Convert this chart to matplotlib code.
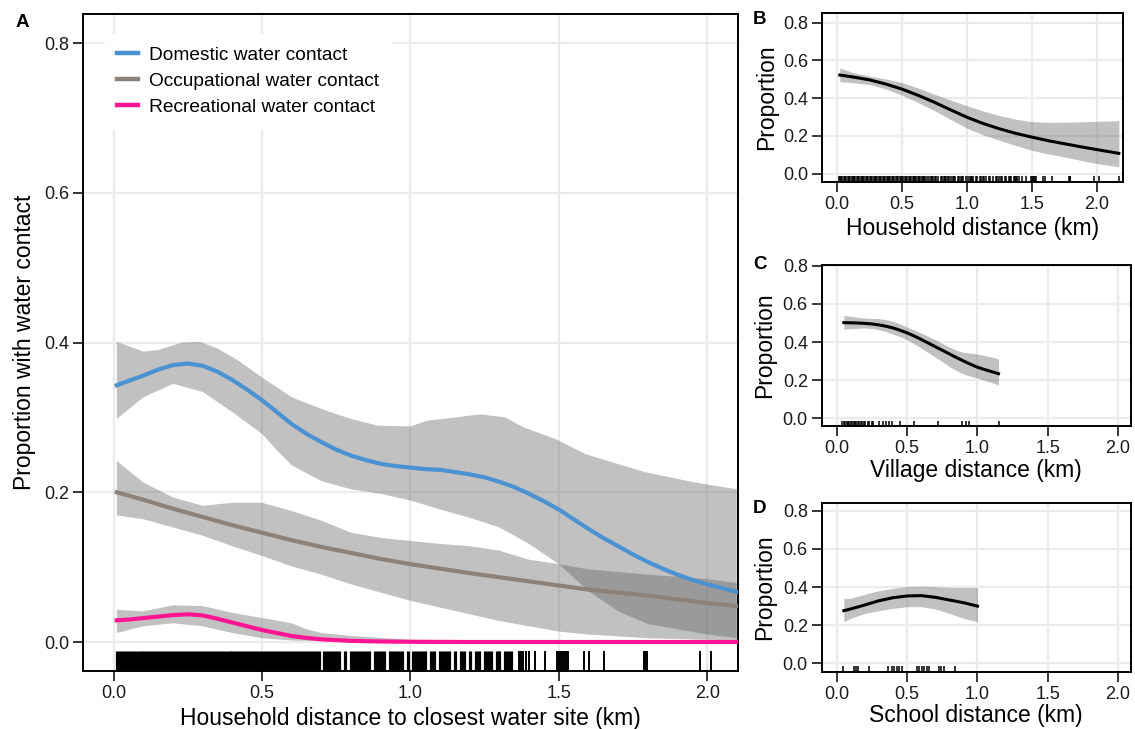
import matplotlib
matplotlib.use("Agg")
import matplotlib.pyplot as plt

plt.rcParams['font.family'] = ['Liberation Sans', 'DejaVu Sans']

# ---- panel A: smoothed proportions by household distance ----
dom_x = [0.01, 0.05, 0.1, 0.15, 0.2, 0.25, 0.3, 0.35, 0.4, 0.45, 0.5, 0.55, 0.6, 0.65,
         0.7, 0.75, 0.8, 0.85, 0.9, 0.95, 1.0, 1.05, 1.1, 1.15, 1.2, 1.25, 1.3, 1.35,
         1.4, 1.45, 1.5, 1.55, 1.6, 1.65, 1.7, 1.75, 1.8, 1.85, 1.9, 1.95, 2.0, 2.05, 2.1]
dom_y = [0.343, 0.349, 0.356, 0.364, 0.370, 0.372, 0.369, 0.361, 0.350, 0.337, 0.323,
         0.307, 0.291, 0.278, 0.267, 0.257, 0.249, 0.243, 0.238, 0.235, 0.233, 0.231,
         0.230, 0.227, 0.224, 0.220, 0.214, 0.207, 0.198, 0.188, 0.177, 0.164, 0.151,
         0.139, 0.128, 0.117, 0.107, 0.098, 0.090, 0.083, 0.077, 0.072, 0.067]
dom_hi_x = [0.01, 0.1, 0.15, 0.23, 0.29, 0.35, 0.42, 0.49, 0.6, 0.65, 0.73, 0.8, 0.89,
            1.0, 1.06, 1.11, 1.21, 1.24, 1.32, 1.38, 1.49, 1.59, 1.79, 1.96, 2.1]
dom_hi = [0.401, 0.388, 0.390, 0.400, 0.401, 0.392, 0.376, 0.356, 0.327, 0.319, 0.307,
          0.298, 0.289, 0.288, 0.296, 0.298, 0.303, 0.304, 0.300, 0.287, 0.271, 0.251,
          0.227, 0.213, 0.204]
dom_lo_x = [0.01, 0.1, 0.2, 0.3, 0.4, 0.5, 0.55, 0.6, 0.7, 0.8, 0.9, 1.0, 1.1, 1.2,
            1.3, 1.4, 1.5, 1.6, 1.7, 1.8, 1.9, 2.0, 2.1]
dom_lo = [0.298, 0.327, 0.345, 0.334, 0.307, 0.278, 0.256, 0.236, 0.215, 0.204, 0.198,
          0.189, 0.177, 0.166, 0.153, 0.131, 0.104, 0.068, 0.041, 0.024, 0.017, 0.010, 0.005]

occ_x = [0.01, 0.1, 0.2, 0.3, 0.4, 0.5, 0.6, 0.7, 0.8, 0.9, 1.0, 1.2, 1.4, 1.6, 1.8, 2.0, 2.1]
occ_y = [0.200, 0.190, 0.178, 0.167, 0.156, 0.146, 0.136, 0.127, 0.119, 0.111, 0.104,
         0.092, 0.081, 0.070, 0.062, 0.052, 0.048]
occ_hi_x = [0.01, 0.1, 0.2, 0.3, 0.4, 0.5, 0.6, 0.7, 0.8, 0.9, 1.0, 1.1, 1.2, 1.3, 1.4,
            1.5, 1.6, 1.8, 2.0, 2.1]
occ_hi = [0.242, 0.213, 0.193, 0.182, 0.186, 0.186, 0.175, 0.162, 0.146, 0.139, 0.135,
          0.131, 0.128, 0.122, 0.110, 0.104, 0.097, 0.090, 0.084, 0.079]
occ_lo_x = [0.01, 0.1, 0.2, 0.3, 0.4, 0.5, 0.6, 0.7, 0.8, 0.9, 1.0, 1.1, 1.2, 1.3, 1.4,
            1.5, 1.6, 1.8, 2.0, 2.1]
occ_lo = [0.169, 0.164, 0.153, 0.142, 0.128, 0.115, 0.101, 0.090, 0.077, 0.066, 0.055,
          0.046, 0.037, 0.028, 0.021, 0.014, 0.010, 0.005, 0.003, 0.002]

rec_x = [0.01, 0.05, 0.1, 0.15, 0.2, 0.25, 0.3, 0.35, 0.4, 0.45, 0.5, 0.55, 0.6, 0.65,
         0.7, 0.8, 0.9, 1.0, 1.2, 2.1]
rec_y = [0.029, 0.030, 0.032, 0.034, 0.036, 0.037, 0.0355, 0.031, 0.026, 0.021, 0.016,
         0.012, 0.008, 0.0055, 0.0035, 0.0015, 0.0007, 0.0003, 0.0, 0.0]
rec_hi_x = [0.01, 0.1, 0.2, 0.3, 0.4, 0.5, 0.6, 0.65, 0.7, 0.8, 1.0, 1.2, 1.5, 2.1]
rec_hi = [0.043, 0.041, 0.049, 0.048, 0.039, 0.032, 0.025, 0.017, 0.012, 0.008, 0.003,
          0.002, 0.001, 0.0005]
rec_lo_x = [0.01, 0.1, 0.2, 0.3, 0.4, 0.5, 0.6, 0.8, 1.0, 2.1]
rec_lo = [0.012, 0.021, 0.025, 0.021, 0.012, 0.005, 0.002, 0.0005, 0.0, 0.0]

# household distances (rug, A and B)
household_rug = [
    0.01, 0.02, 0.03, 0.04, 0.05, 0.06, 0.07, 0.08, 0.09, 0.10, 0.11, 0.12, 0.13, 0.14,
    0.15, 0.16, 0.17, 0.18, 0.19, 0.20, 0.21, 0.22, 0.23, 0.24, 0.25, 0.26, 0.27, 0.28,
    0.29, 0.30, 0.31, 0.32, 0.33, 0.34, 0.35, 0.36, 0.37, 0.38, 0.39, 0.40, 0.41, 0.42,
    0.43, 0.44, 0.45, 0.46, 0.47, 0.48, 0.49, 0.50, 0.51, 0.52, 0.53, 0.54, 0.55, 0.56,
    0.57, 0.58, 0.59, 0.60, 0.61, 0.62, 0.63, 0.64, 0.65, 0.66, 0.67, 0.68, 0.69,
    0.71, 0.72, 0.73, 0.74, 0.75, 0.76, 0.78, 0.80, 0.81, 0.82, 0.83, 0.84, 0.85,
    0.86, 0.88, 0.89, 0.90, 0.91, 0.93, 0.94, 0.95, 0.96, 0.97, 0.99, 1.01, 1.02,
    1.03, 1.04, 1.05, 1.07, 1.08, 1.10, 1.11, 1.12, 1.13, 1.15, 1.17, 1.18, 1.20,
    1.22, 1.23, 1.25, 1.26, 1.27, 1.29, 1.30, 1.32, 1.33, 1.34,
]
household_rug_sparse = [1.365, 1.373, 1.380, 1.388, 1.399, 1.421, 1.455, 1.494, 1.500,
                        1.505, 1.511, 1.518, 1.524, 1.530, 1.584, 1.601, 1.653, 1.786,
                        1.792, 1.797, 1.977, 2.014, 2.17]

# ---- panels B-D: overall proportions ----
hh_x = [0.02, 0.125, 0.25, 0.375, 0.5, 0.625, 0.75, 0.875, 1.0, 1.125, 1.25, 1.375,
        1.5, 1.625, 1.75, 1.875, 2.0, 2.17]
hh_y = [0.523, 0.512, 0.497, 0.475, 0.448, 0.415, 0.378, 0.338, 0.299, 0.266, 0.238,
        0.214, 0.194, 0.175, 0.159, 0.143, 0.128, 0.108]
hh_hi = [0.561, 0.535, 0.517, 0.502, 0.483, 0.454, 0.421, 0.390, 0.360, 0.332, 0.308,
         0.289, 0.276, 0.272, 0.273, 0.275, 0.278, 0.281]
hh_lo = [0.488, 0.482, 0.472, 0.449, 0.416, 0.377, 0.334, 0.287, 0.241, 0.206, 0.177,
         0.150, 0.124, 0.105, 0.089, 0.071, 0.054, 0.037]

vil_x = [0.05, 0.1, 0.15, 0.2, 0.25, 0.3, 0.35, 0.4, 0.45, 0.5, 0.55, 0.6, 0.65, 0.7,
         0.75, 0.8, 0.85, 0.9, 0.95, 1.0, 1.05, 1.1, 1.15]
vil_y = [0.502, 0.501, 0.500, 0.498, 0.495, 0.490, 0.483, 0.474, 0.462, 0.448, 0.432,
         0.414, 0.395, 0.376, 0.357, 0.338, 0.319, 0.301, 0.284, 0.268, 0.256, 0.245, 0.234]
vil_hi = [0.539, 0.535, 0.530, 0.526, 0.524, 0.523, 0.518, 0.509, 0.495, 0.479, 0.463,
          0.447, 0.430, 0.412, 0.393, 0.374, 0.358, 0.346, 0.342, 0.337, 0.329, 0.322, 0.311]
vil_lo = [0.468, 0.470, 0.472, 0.474, 0.471, 0.465, 0.455, 0.442, 0.428, 0.412, 0.391,
          0.368, 0.345, 0.321, 0.297, 0.272, 0.251, 0.233, 0.221, 0.211, 0.199, 0.188, 0.175]
village_rug = [0.04, 0.05, 0.06, 0.07, 0.08, 0.09, 0.10, 0.11, 0.12, 0.13, 0.14, 0.15,
               0.16, 0.17, 0.18, 0.19, 0.20, 0.22, 0.23, 0.25, 0.26, 0.30, 0.33, 0.35,
               0.37, 0.39, 0.45, 0.55, 0.72, 0.89, 0.92, 0.94, 1.15]

sch_x = [0.05, 0.1, 0.2, 0.3, 0.4, 0.5, 0.6, 0.7, 0.8, 0.9, 1.0]
sch_y = [0.276, 0.285, 0.306, 0.328, 0.344, 0.353, 0.355, 0.346, 0.332, 0.318, 0.300]
sch_hi = [0.341, 0.341, 0.362, 0.381, 0.393, 0.402, 0.405, 0.402, 0.398, 0.397, 0.397]
sch_lo = [0.218, 0.236, 0.262, 0.276, 0.288, 0.297, 0.297, 0.285, 0.262, 0.236, 0.218]
school_rug = [0.047, 0.123, 0.137, 0.154, 0.232, 0.367, 0.391, 0.408, 0.427, 0.445,
              0.467, 0.569, 0.585, 0.604, 0.621, 0.640, 0.654, 0.730, 0.744, 0.763, 0.841]

x_ticks = [0.0, 0.5, 1.0, 1.5, 2.0]
y_ticks = [0.0, 0.2, 0.4, 0.6, 0.8]

band = (0.35, 0.35, 0.35)
band_alpha = 0.37
grid_col = '#ebebeb'
tick_fs = 13
label_fs = 16.5


def style_axes(ax, xlim, ylim):
    ax.set_xlim(*xlim)
    ax.set_ylim(*ylim)
    ax.set_xticks(x_ticks)
    ax.set_yticks(y_ticks)
    ax.set_xticklabels([f'{v:.1f}' for v in x_ticks])
    ax.set_yticklabels([f'{v:.1f}' for v in y_ticks])
    ax.grid(True, color=grid_col, linewidth=1.6, zorder=0)
    ax.set_axisbelow(True)
    for s in ax.spines.values():
        s.set_linewidth(1.4)
        s.set_color('black')
    ax.tick_params(direction='out', length=7, width=1.1, colors='black',
                   labelcolor='#1a1a1a', labelsize=tick_fs, pad=3)


fig = plt.figure(figsize=(11.35, 7.29), dpi=100)

# ---- A ----
axA = fig.add_axes([0.0731, 0.0796, 0.5771, 0.9012])
style_axes(axA, (-0.104, 2.104), (-0.0387, 0.839))
axA.fill(dom_hi_x + dom_lo_x[::-1], dom_hi + dom_lo[::-1], color=band, alpha=band_alpha,
         lw=0, zorder=2)
axA.fill(occ_hi_x + occ_lo_x[::-1], occ_hi + occ_lo[::-1], color=band, alpha=band_alpha,
         lw=0, zorder=2)
axA.fill(rec_hi_x + rec_lo_x[::-1], rec_hi + rec_lo[::-1], color=band, alpha=band_alpha,
         lw=0, zorder=2)
axA.plot(dom_x, dom_y, color='#4a92d2', lw=3, zorder=3, label='Domestic water contact')
axA.plot(occ_x, occ_y, color='#8c8279', lw=3, zorder=3, label='Occupational water contact')
axA.plot(rec_x, rec_y, color='#ff1493', lw=3, zorder=3, label='Recreational water contact')
axA.vlines(household_rug, 0, 0.030, transform=axA.get_xaxis_transform(), color='black',
           lw=2.3, zorder=4)
axA.vlines(household_rug_sparse, 0, 0.030, transform=axA.get_xaxis_transform(),
           color='black', lw=1.4, zorder=4)
axA.set_xlabel('Household distance to closest water site (km)', fontsize=label_fs)
axA.set_ylabel('Proportion with water contact', fontsize=label_fs)
axA.xaxis.set_label_coords(0.5, -0.072)
axA.xaxis.label.set_va('center')
axA.yaxis.set_label_coords(-0.09, 0.5)
axA.yaxis.label.set_va('center')
leg = axA.legend(loc='upper left', bbox_to_anchor=(0.0336, 0.9696), frameon=True,
                 fontsize=13.8, handlelength=1.05, handletextpad=0.58, labelspacing=0.45,
                 borderpad=0.65, borderaxespad=0, fancybox=False)
leg.get_frame().set_edgecolor('white')
leg.get_frame().set_facecolor('white')
leg.get_frame().set_alpha(1)
for h in leg.get_lines():
    h.set_linewidth(3.2)

# ---- B, C, D ----
right_panels = [
    ([0.7245, 0.7508, 0.2647, 0.2310], (-0.115, 2.2), (-0.042, 0.85), hh_x, hh_y, hh_hi, hh_lo,
     household_rug + household_rug_sparse, 'Household distance (km)', 'B', -0.28, 0.9726),
    ([0.7240, 0.4160, 0.2722, 0.2204], (-0.107, 2.09), (-0.039, 0.804), vil_x, vil_y, vil_hi,
     vil_lo, village_rug, 'Village distance (km)', 'C', -0.276, 0.6365),
    ([0.7240, 0.0786, 0.2722, 0.2318], (-0.107, 2.09), (-0.044, 0.842), sch_x, sch_y, sch_hi,
     sch_lo, school_rug, 'School distance (km)', 'D', -0.262, 0.3018),
]
for rect, xl, yl, xs, ys, hi, lo, rug, xlab, tag, xlab_y, tag_y in right_panels:
    ax = fig.add_axes(rect)
    style_axes(ax, xl, yl)
    ax.fill_between(xs, lo, hi, color=band, alpha=band_alpha, lw=0, zorder=2)
    ax.plot(xs, ys, color='black', lw=2.2, zorder=3)
    ax.vlines(rug, 0, 0.032, transform=ax.get_xaxis_transform(), color='black', lw=1.1,
              zorder=4)
    ax.set_xlabel(xlab, fontsize=label_fs)
    ax.set_ylabel('Proportion', fontsize=label_fs)
    ax.xaxis.set_label_coords(0.5, xlab_y)
    ax.xaxis.label.set_va('center')
    ax.yaxis.set_label_coords(-0.185, 0.5)
    ax.yaxis.label.set_va('center')
    fig.text(0.6696, tag_y, tag, fontsize=13.5, fontweight='bold', va='center', ha='center')

fig.text(0.0194, 0.9698, 'A', fontsize=13.5, fontweight='bold', va='center', ha='center')

fig.savefig('out.png', dpi=100)
